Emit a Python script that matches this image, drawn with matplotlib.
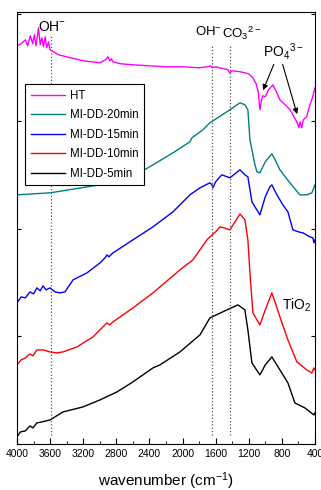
import matplotlib
matplotlib.use('Agg')
import matplotlib.pyplot as plt
from matplotlib.ticker import MultipleLocator

plt.rcParams['font.family'] = ['Liberation Sans', 'DejaVu Sans']
plt.rcParams['mathtext.default'] = 'regular'

# FTIR spectra, wavenumber (cm-1) and offset transmittance (a.u.)
ht_w = [4000, 3950, 3900, 3870, 3840, 3810, 3790, 3770, 3740, 3720, 3700, 3680, 3660, 3640, 3620,
        3600, 3560, 3500, 3400, 3300, 3200, 3000, 2930, 2900, 2880, 2860, 2840, 2750, 2600, 2400,
        2200, 2000, 1800, 1700, 1660, 1640, 1600, 1550, 1500, 1450, 1430, 1400, 1300, 1200, 1150,
        1110, 1085, 1065, 1045, 1030, 1000, 960, 907, 860, 823, 760, 700, 666, 620, 593, 580, 560,
        540, 500, 460, 430, 400]
ht_y = [398, 400, 404, 398, 408, 400, 409, 398, 416, 399, 406, 397, 407, 396, 402,
        394, 392, 389, 387, 385, 383, 381, 384, 387, 383, 385, 382, 380, 379, 378,
        377, 377, 376, 377, 378, 376, 377, 376, 375, 374, 371, 373, 372, 370, 366,
        360, 352, 334, 344, 348, 347, 354, 359, 351, 344, 339, 334, 329, 322, 316, 322, 316,
        324, 327, 339, 346, 356]

dd20_w = [4000, 3600, 3000, 2600, 2357, 2115, 1910, 1886, 1753, 1669, 1427, 1306, 1246, 1210,
          1185, 1125, 1101, 1065, 1000, 920, 880, 823, 702, 582, 497, 437, 412, 400]
dd20_y = [249, 251, 259, 267, 279, 291, 302, 306, 314, 321, 334, 341, 339, 334,
          304, 279, 272, 271, 282, 290, 284, 274, 261, 249, 249, 251, 256, 259]

dd15_w = [4000, 3950, 3900, 3843, 3800, 3760, 3720, 3686, 3650, 3601, 3541, 3481, 3420, 3323,
          3154, 2997, 2937, 2913, 2890, 2840, 2599, 2357, 2115, 1910, 1789, 1669, 1644, 1632,
          1600, 1548, 1524, 1427, 1306, 1246, 1210, 1161, 1065, 1000, 944, 920, 859, 787, 726,
          666, 600, 545, 461, 424, 412, 400]
dd15_y = [141, 147, 146, 152, 150, 156, 153, 158, 154, 156, 152, 151, 152, 164,
          171, 181, 186, 189, 187, 191, 204, 217, 232, 249, 256, 261, 259, 256,
          262, 267, 269, 266, 274, 269, 267, 242, 229, 247, 257, 259, 249, 239, 232,
          214, 212, 211, 207, 206, 201, 204]

dd10_w = [4000, 3950, 3900, 3843, 3807, 3760, 3686, 3601, 3517, 3444, 3275, 3082, 2913, 2880,
          2840, 2599, 2357, 2031, 1874, 1705, 1669, 1600, 1548, 1500, 1427, 1350, 1306, 1246,
          1210, 1185, 1161, 1149, 1065, 1000, 920, 870, 823, 726, 618, 497, 437, 412, 400]
dd10_y = [79, 84, 86, 90, 88, 94, 94, 92, 91, 92, 97, 107, 121, 119,
          122, 136, 151, 174, 184, 204, 207, 212, 217, 216, 214, 224, 230, 224,
          204, 171, 144, 131, 119, 134, 151, 139, 127, 104, 82, 74, 71, 76, 74]

dd5_w = [4000, 3960, 3900, 3843, 3807, 3760, 3700, 3601, 3444, 3203, 2997, 2792, 2599, 2357,
         2273, 2031, 1789, 1669, 1463, 1330, 1246, 1210, 1161, 1065, 1000, 920, 823, 726, 642,
         521, 412, 400]
dd5_y = [7, 12, 13, 18, 16, 21, 22, 24, 32, 37, 44, 52, 62, 76,
         79, 92, 109, 126, 134, 139, 134, 114, 81, 69, 79, 87, 74, 61, 41,
         36, 29, 31]

series = [('HT', ht_w, ht_y, '#ff00ff'),
          ('MI-DD-20min', dd20_w, dd20_y, '#008080'),
          ('MI-DD-15min', dd15_w, dd15_y, '#0000ff'),
          ('MI-DD-10min', dd10_w, dd10_y, '#ff0000'),
          ('MI-DD-5min', dd5_w, dd5_y, '#000000')]

fig = plt.figure(figsize=(3.21, 4.90), dpi=100)
ax = fig.add_axes([0.053, 0.094, 0.928, 0.882])

for name, w, y, c in series:
    ax.plot(w, y, color=c, lw=1.0, label=name)

# band markers
ax.plot([3590, 3590], [9, 408], ls=':', color='#555555', lw=0.9)
ax.plot([1640, 1640], [9, 399], ls=':', color='#555555', lw=0.9)
ax.plot([1430, 1430], [9, 399], ls=':', color='#555555', lw=0.9)

ax.text(3577, 417, 'OH$^{-}$', fontsize=10, ha='center', va='center')
ax.text(1850, 412, 'OH$^{-}$', fontsize=9.5, ha='left', va='center')
ax.text(1525, 410, 'CO$_3$$^{2-}$', fontsize=9.5, ha='left', va='center')
ax.text(787, 392, 'PO$_4$$^{3-}$', fontsize=10, ha='center', va='center')
ax.text(618, 139, 'TiO$_2$', fontsize=10, ha='center', va='center')

arrow = dict(arrowstyle='-|>', color='black', lw=0.8, mutation_scale=8)
ax.annotate('', xy=(1040, 351), xytext=(883, 382), arrowprops=arrow)
ax.annotate('', xy=(606, 327), xytext=(799, 382), arrowprops=arrow)

ax.set_xlim(4000, 400)
ax.set_ylim(0, 432)
ax.xaxis.set_major_locator(MultipleLocator(400))
ax.xaxis.set_minor_locator(MultipleLocator(200))
ax.set_yticks([0, 107.5, 215, 322.5, 430])
ax.set_yticklabels([])
ax.tick_params(axis='both', which='both', direction='in', labelsize=7.5)
ax.tick_params(axis='y', right=True, length=3)
ax.tick_params(axis='x', which='major', length=4)
ax.tick_params(axis='x', which='minor', length=2)
ax.set_xlabel('wavenumber (cm$^{-1}$)', fontsize=11, labelpad=8)

leg = ax.legend(loc='upper left', bbox_to_anchor=(0.027, 0.833), borderaxespad=0,
                fontsize=8.3, frameon=True, fancybox=False, framealpha=1,
                edgecolor='black', handlelength=3.0, handletextpad=0.4,
                labelspacing=0.65, borderpad=0.5)
leg.get_frame().set_linewidth(0.8)

fig.savefig('out.png', dpi=100)
